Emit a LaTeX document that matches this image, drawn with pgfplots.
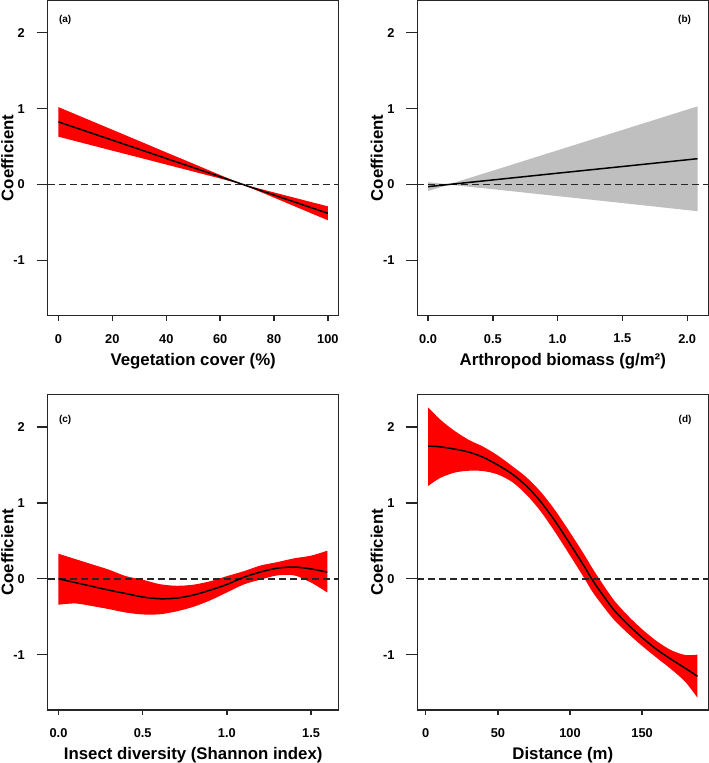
\documentclass[border=0pt]{standalone}
\usepackage{fontspec}
\setmainfont{Liberation Sans}
\usepackage{pgfplots}
\pgfplotsset{compat=1.18}
\usepgfplotslibrary{fillbetween}
\usepackage{pgfplotstable}

\pgfplotstableread{
x m lo up
0 0.825 0.630 1.020
10 0.705 0.538 0.871
20 0.584 0.446 0.722
30 0.464 0.355 0.573
40 0.343 0.263 0.423
50 0.223 0.171 0.275
60 0.102 0.079 0.125
68 0.006 0.003 0.009
70 -0.019 -0.025 -0.013
80 -0.139 -0.173 -0.105
90 -0.260 -0.323 -0.197
100 -0.380 -0.472 -0.288
}\tabA

\pgfplotstableread{
x m lo up
0 -0.028 -0.086 0.030
0.16 0.000 -0.002 0.002
0.5 0.060 -0.062 0.182
1.0 0.149 -0.153 0.451
1.5 0.237 -0.245 0.719
2.08 0.340 -0.352 1.030
}\tabB

\pgfplotstableread{
x m lo up
0 0 -0.342 0.33
0.1 -0.05 -0.325 0.26
0.2 -0.10 -0.36 0.19
0.3 -0.15 -0.40 0.12
0.4 -0.195 -0.445 0.035
0.5 -0.24 -0.47 -0.012
0.6 -0.263 -0.468 -0.07
0.7 -0.255 -0.43 -0.092
0.8 -0.215 -0.37 -0.078
0.9 -0.15 -0.285 -0.033
1.0 -0.075 -0.18 0.035
1.1 0.02 -0.075 0.10
1.2 0.09 -0.01 0.175
1.3 0.14 0.045 0.22
1.4 0.155 0.045 0.27
1.5 0.13 -0.05 0.305
1.596 0.088 -0.18 0.37
}\tabC

\pgfplotstableread{
x m lo up
1.6 1.75 1.224 2.26
10 1.74 1.33 2.10
20 1.71 1.40 1.95
30 1.67 1.425 1.83
40 1.60 1.42 1.74
50 1.50 1.375 1.625
60 1.38 1.275 1.485
70 1.22 1.105 1.335
80 1.01 0.88 1.14
90 0.75 0.605 0.895
100 0.46 0.308 0.612
110 0.16 0.005 0.315
115 0.0 -0.155 0.155
120 -0.14 -0.288 0.008
130 -0.40 -0.53 -0.27
140 -0.60 -0.717 -0.483
150 -0.775 -0.885 -0.665
160 -0.93 -1.04 -0.82
170 -1.06 -1.19 -0.94
180 -1.18 -1.36 -1.005
188.4 -1.285 -1.57 -1.00
}\tabD

\tikzset{panellab/.style={font=\bfseries\fontsize{10}{10}\selectfont}}

\pgfplotsset{
  coefstyle/.style={
    scale only axis, width=291pt, height=315.5pt,
    anchor=south west,
    ymin=-1.73, ymax=2.43,
    ytick={-1,0,1,2},
    axis line style={black!85, line width=1.3pt},
    tick style={black!85, line width=1.3pt},
    tick align=outside, xtick pos=lower, ytick pos=left,
    xtick style={/pgfplots/major tick length=5pt},
    ytick style={/pgfplots/major tick length=11pt},
    scaled x ticks=false,
    /pgf/number format/assume math mode=true,
    tick label style={font=\bfseries\fontsize{12.8}{13}\selectfont, text=black},
    yticklabel style={anchor=east, inner sep=0pt, xshift=-18.4pt},
    xticklabel style={anchor=north, inner sep=0pt, yshift=-14pt},
    label style={font=\bfseries\fontsize{16.8}{17}\selectfont},
    xlabel style={at={([yshift=-50pt]axis description cs:0.5,0)}, anchor=base},
    ylabel style={at={([xshift=-34.4pt]axis description cs:0,0.5)}, anchor=base},
    ylabel={Coefficient},
  },
  zeroline/.style={black!85, line width=1.6pt, dash pattern=on 7pt off 4pt},
  meanline/.style={black, line width=1.5pt},
  onedec/.style={xticklabel style={/pgf/number format/fixed, /pgf/number format/fixed zerofill, /pgf/number format/precision=1}},
}

\begin{document}
\begin{tikzpicture}

% (a)
\begin{axis}[coefstyle, at={(47.7pt,447.3pt)},
  xmin=-4, xmax=104, xtick={0,20,40,60,80,100},
  xlabel={Vegetation cover (\%)}]
  \addplot[name path=upA, draw=none] table[x=x, y=up] {\tabA};
  \addplot[name path=loA, draw=none] table[x=x, y=lo] {\tabA};
  \addplot[fill=red, draw=none] fill between[of=upA and loA];
  \addplot[zeroline] coordinates {(-4,0) (104,0)};
  \addplot[meanline] table[x=x, y=m] {\tabA};
  \node[panellab] at (axis cs:2.5,2.175) {(a)};
\end{axis}

% (b)
\begin{axis}[coefstyle, onedec, at={(417.3pt,447.3pt)},
  xmin=-0.0832, xmax=2.1632, xtick={0,0.5,1,1.5,2},
  xlabel={Arthropod biomass (g/m²)}]
  \addplot[name path=upB, draw=none] table[x=x, y=up] {\tabB};
  \addplot[name path=loB, draw=none] table[x=x, y=lo] {\tabB};
  \addplot[fill=gray!50, draw=none] fill between[of=upB and loB];
  \addplot[zeroline] coordinates {(-0.0832,0) (2.1632,0)};
  \addplot[meanline] table[x=x, y=m] {\tabB};
  \node[panellab] at (axis cs:1.98,2.175) {(b)};
\end{axis}

% (c)
\begin{axis}[coefstyle, onedec, at={(47.7pt,53pt)},
  xmin=-0.064, xmax=1.664, xtick={0,0.5,1,1.5},
  xlabel={Insect diversity (Shannon index)}]
  \addplot[name path=upC, draw=none, smooth] table[x=x, y=up] {\tabC};
  \addplot[name path=loC, draw=none, smooth] table[x=x, y=lo] {\tabC};
  \addplot[fill=red, draw=none] fill between[of=upC and loC];
  \addplot[zeroline] coordinates {(-0.064,0) (1.664,0)};
  \addplot[meanline, smooth] table[x=x, y=m] {\tabC};
  \node[panellab] at (axis cs:0.04,2.10) {(c)};
\end{axis}

% (d)
\begin{axis}[coefstyle, at={(417.3pt,53pt)},
  xmin=-5.87, xmax=195.9, xtick={0,50,100,150},
  xlabel={Distance (m)}]
  \addplot[name path=upD, draw=none, smooth] table[x=x, y=up] {\tabD};
  \addplot[name path=loD, draw=none, smooth] table[x=x, y=lo] {\tabD};
  \addplot[fill=red, draw=none] fill between[of=upD and loD];
  \addplot[zeroline] coordinates {(-5.87,0) (195.9,0)};
  \addplot[meanline, smooth] table[x=x, y=m] {\tabD};
  \node[panellab] at (axis cs:179.8,2.10) {(d)};
\end{axis}

\pgfresetboundingbox
\path[use as bounding box] (0pt,0pt) rectangle (709pt,763pt);
\end{tikzpicture}
\end{document}
